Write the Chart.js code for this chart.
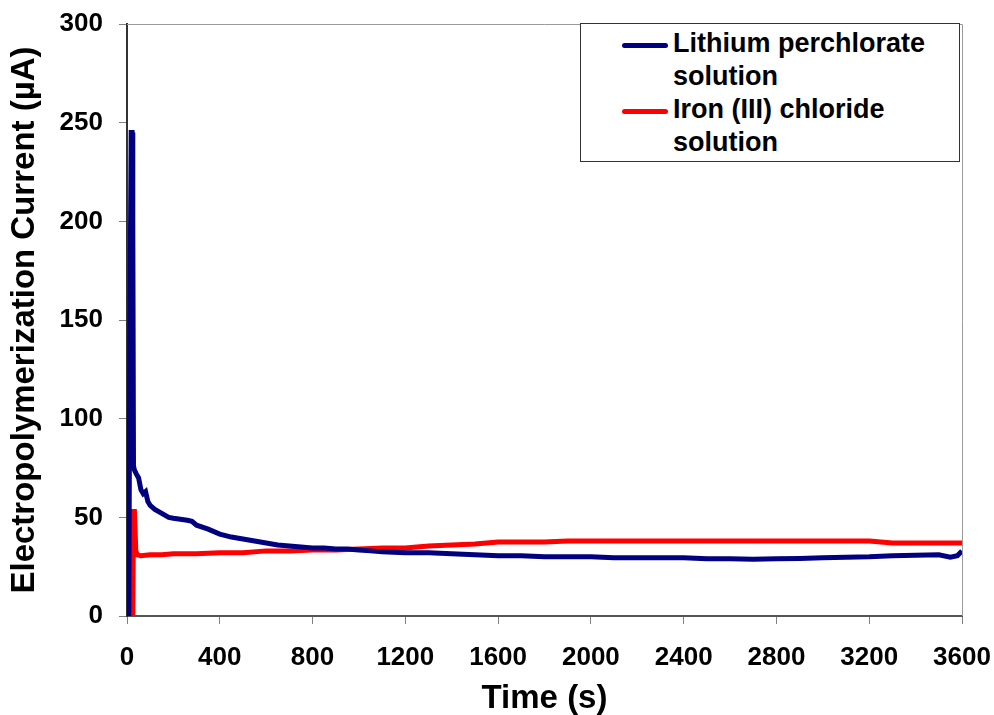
<!DOCTYPE html>
<html>
<head>
<meta charset="utf-8">
<script src="https://cdn.jsdelivr.net/npm/chart.js@4.4.1/dist/chart.umd.min.js"></script>
<style>
  body { margin: 0; background: #fff; }
  #wrap { position: relative; width: 994px; height: 715px; }
  #legend {
    position: absolute; left: 580px; top: 23px; width: 380px; height: 139px;
    box-sizing: border-box; border: 1px solid #333; background: #fff;
    font: bold 27px "Liberation Sans", Arial, sans-serif; color: #000;
  }
  .item { position: absolute; left: 41px; display: flex; }
  .swatch { width: 46px; height: 5px; border-radius: 3px; margin-top: 16px; margin-right: 5px; }
  .label { line-height: 33px; }
</style>
</head>
<body>
<div id="wrap">
  <canvas id="chart" width="994" height="715"></canvas>
  <div id="legend"></div>
</div>
<script>
const seriesNames = ["Lithium perchlorate\nsolution", "Iron (III) chloride\nsolution"];
const seriesColors = ["#000080", "#ff0000"];

// lithium perchlorate: time (s) and current (uA)
const liTime = [0, 8, 12, 18, 22, 25, 28, 32, 40, 50, 60, 70, 80, 90, 100, 120, 150, 180, 200, 230,
  260, 280, 300, 350, 400, 450, 500, 550, 600, 650, 700, 750, 800, 850, 900, 950, 1000, 1050, 1100,
  1200, 1300, 1400, 1500, 1600, 1700, 1800, 1900, 2000, 2100, 2200, 2300, 2400, 2500, 2600, 2700,
  2800, 2900, 3000, 3100, 3200, 3300, 3400, 3500, 3550, 3580, 3600];
const liCurrent = [0, 0, 140, 245, 245, 200, 76, 74, 72, 70, 64, 62, 63, 58, 56, 54, 52, 50, 49.5, 49,
  48.5, 48, 46, 44, 41.5, 40, 39, 38, 37, 36, 35.5, 35, 34.5, 34.5, 34, 34, 33.5, 33, 32.5,
  32, 32, 31.5, 31, 30.5, 30.5, 30, 30, 30, 29.5, 29.5, 29.5, 29.5, 29, 29, 28.8,
  29, 29.2, 29.5, 29.8, 30, 30.5, 30.8, 31, 29.8, 30.5, 33];

// iron (III) chloride: time (s) and current (uA)
const feTime = [0, 25, 28, 32, 38, 45, 60, 100, 150, 200, 300, 400, 500, 600, 700, 800, 900, 1000,
  1100, 1200, 1300, 1400, 1500, 1600, 1700, 1800, 1900, 2000, 2200, 2400, 2600, 2800, 3000, 3200,
  3250, 3300, 3600];
const feCurrent = [0, 0, 53, 53, 33, 31, 30.5, 31, 31, 31.5, 31.5, 32, 32, 33, 33, 33.5, 33.5, 34,
  34.5, 34.5, 35.5, 36, 36.5, 37.5, 37.5, 37.5, 38, 38, 38, 38, 38, 38, 38, 38,
  37.5, 37, 37];

const xTicks = [0, 400, 800, 1200, 1600, 2000, 2400, 2800, 3200, 3600];
const yTicks = [0, 50, 100, 150, 200, 250, 300];

const FONT = "'Liberation Sans', Arial, sans-serif";

function toPoints(times, values) {
  return times.map((t, i) => ({ x: t, y: values[i] }));
}

const frame = {
  id: "frame",
  afterDraw(chart) {
    const { ctx, chartArea: a } = chart;
    ctx.save();
    ctx.strokeStyle = "#9a9a9a";
    ctx.lineWidth = 1;
    ctx.beginPath();
    ctx.moveTo(a.left, a.top + 0.5);
    ctx.lineTo(a.right + 0.5, a.top + 0.5);
    ctx.lineTo(a.right + 0.5, a.bottom);
    ctx.stroke();
    ctx.restore();
  },
};

new Chart(document.getElementById("chart"), {
  type: "line",
  data: {
    datasets: [
      {
        label: seriesNames[0],
        data: toPoints(liTime, liCurrent),
        borderColor: seriesColors[0],
        borderWidth: 5,
        pointRadius: 0,
        tension: 0,
      },
      {
        label: seriesNames[1],
        data: toPoints(feTime, feCurrent),
        borderColor: seriesColors[1],
        borderWidth: 5,
        pointRadius: 0,
        tension: 0,
      },
    ],
  },
  options: {
    responsive: false,
    animation: false,
    layout: { padding: { left: 0, right: 32, top: 24, bottom: 0 } },
    scales: {
      x: {
        type: "linear",
        min: 0,
        max: 3600,
        afterBuildTicks: (s) => { s.ticks = xTicks.map((v) => ({ value: v })); },
        afterFit: (s) => { s.height = 99; s.paddingLeft = 0; s.paddingRight = 0; },
        grid: { drawOnChartArea: false, tickLength: 8, color: "#808080" },
        border: { color: "#555", width: 2 },
        ticks: {
          color: "#000",
          padding: 18,
          font: { family: FONT, size: 26, weight: "bold" },
          callback: (v) => String(v),
        },
        title: {
          display: true,
          text: "Time (s)",
          color: "#000",
          padding: 0,
          font: { family: FONT, size: 33, weight: "bold", lineHeight: 1 },
        },
      },
      y: {
        min: 0,
        max: 300,
        afterBuildTicks: (s) => { s.ticks = yTicks.map((v) => ({ value: v })); },
        afterFit: (s) => { s.width = 127; s.paddingTop = 0; s.paddingBottom = 0; },
        grid: { drawOnChartArea: false, tickLength: 8, color: "#808080" },
        border: { color: "#333", width: 2 },
        ticks: {
          color: "#000",
          padding: 16,
          font: { family: FONT, size: 26, weight: "bold" },
          callback: (v) => String(v),
        },
        title: {
          display: true,
          text: "Electropolymerization Current (µA)",
          color: "#000",
          padding: { top: 8, bottom: 0 },
          font: { family: FONT, size: 33, weight: "bold", lineHeight: 1 },
        },
      },
    },
    plugins: {
      legend: { display: false },
      tooltip: { enabled: false },
    },
  },
  plugins: [frame],
});

// legend with wrapped labels like the original
const legend = document.getElementById("legend");
seriesNames.forEach((name, i) => {
  const item = document.createElement("div");
  item.className = "item";
  item.style.top = 3 + i * 66 + "px";
  item.innerHTML = `<div class="swatch" style="background:${seriesColors[i]}"></div>` +
    `<div class="label">${name.replace("\n", "<br>")}</div>`;
  legend.appendChild(item);
});
</script>
</body>
</html>
